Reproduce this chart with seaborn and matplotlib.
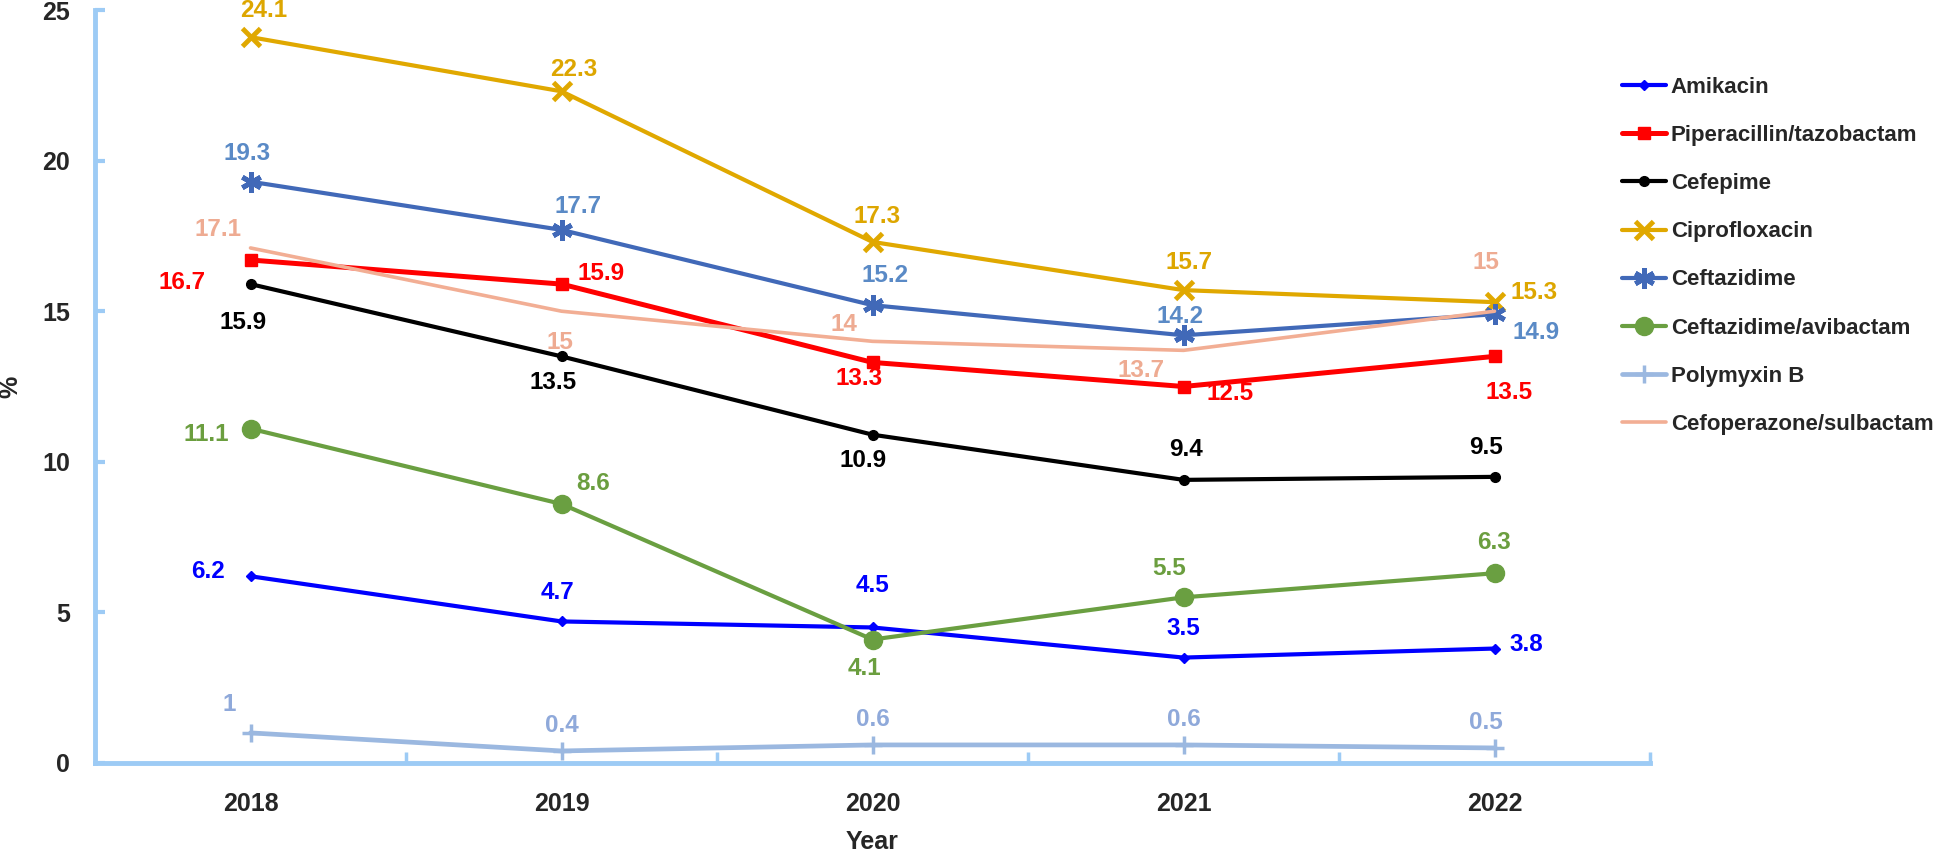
import pandas as pd
import matplotlib
matplotlib.use("Agg")
import matplotlib.pyplot as plt
import seaborn as sns

# ================== DATA ==================
YEARS = ["2018", "2019", "2020", "2021", "2022"]
DRUGS = ["Amikacin", "Piperacillin/tazobactam", "Cefepime", "Ciprofloxacin",
         "Ceftazidime", "Ceftazidime/avibactam", "Polymyxin B",
         "Cefoperazone/sulbactam"]
amikacin = [6.2, 4.7, 4.5, 3.5, 3.8]
piperacillin = [16.7, 15.9, 13.3, 12.5, 13.5]
cefepime = [15.9, 13.5, 10.9, 9.4, 9.5]
ciprofloxacin = [24.1, 22.3, 17.3, 15.7, 15.3]
ceftazidime = [19.3, 17.7, 15.2, 14.2, 14.9]
ceftazidime_avi = [11.1, 8.6, 4.1, 5.5, 6.3]
polymyxin = [1, 0.4, 0.6, 0.6, 0.5]
cefoperazone = [17.1, 15, 14, 13.7, 15]
VALUES = [amikacin, piperacillin, cefepime, ciprofloxacin, ceftazidime,
          ceftazidime_avi, polymyxin, cefoperazone]

# ================== STYLE ==================
AXIS_COLOR = "#9DCBF5"
FONT = ["Liberation Sans", "DejaVu Sans"]
STYLES = {
    "Amikacin": dict(color="#0000FF", marker="D", ms=5.5, lw=3.0, mew=1),
    "Piperacillin/tazobactam": dict(color="#FF0000", marker="s", ms=8, lw=3.6, mew=1),
    "Cefepime": dict(color="#000000", marker="o", ms=7, lw=3.0, mew=1),
    "Ciprofloxacin": dict(color="#E0A800", marker="x", ms=13, lw=3.0, mew=3.5),
    "Ceftazidime": dict(color="#4169B8", marker=(6, 2, 0), ms=15, lw=3.0, mew=3.5),
    "Ceftazidime/avibactam": dict(color="#6A9F41", marker="o", ms=13, lw=3.0, mew=1),
    "Polymyxin B": dict(color="#9BB8E0", marker="+", ms=13, lw=3.4, mew=2.5),
    "Cefoperazone/sulbactam": dict(color="#F2AE94", marker=None, ms=0, lw=2.6, mew=0),
}
LABEL_COLORS = {
    "Amikacin": "#0000FF", "Piperacillin/tazobactam": "#FF0000",
    "Cefepime": "#000000", "Ciprofloxacin": "#DDA600",
    "Ceftazidime": "#5A8AC6", "Ceftazidime/avibactam": "#6B9E3F",
    "Polymyxin B": "#8FA9DA", "Cefoperazone/sulbactam": "#EEAB92",
}
# label offsets in pixels (dx, dy), dy positive = down
OFFSETS = {
    "Amikacin": [(-43, -5), (-4, -29), (0, -42), (0, -29), (32, -4)],
    "Piperacillin/tazobactam": [(-68, 23), (40, -11), (-13, 16), (47, 7), (15, 36)],
    "Cefepime": [(-7, 38), (-8, 26), (-9, 26), (2, -30), (-8, -29)],
    "Ciprofloxacin": [(13, -27), (12, -22), (5, -25), (6, -28), (40, -10)],
    "Ceftazidime": [(-3, -28), (17, -23), (13, -30), (-3, -19), (42, 18)],
    "Ceftazidime/avibactam": [(-44, 6), (32, -20), (-8, 29), (-14, -29), (0, -31)],
    "Polymyxin B": [(-21, -28), (0, -25), (0, -25), (0, -25), (-9, -25)],
    "Cefoperazone/sulbactam": [(-32, -18), (-2, 31), (-29, -17), (-42, 20), (-9, -49)],
}

sns.set_theme(style="white")
plt.rcParams["font.family"] = FONT
plt.rcParams["font.weight"] = "bold"

fig = plt.figure(figsize=(19.45, 8.58), dpi=100)
ax = fig.add_axes([95 / 1945, 1 - 763 / 858, (1650 - 95) / 1945, (763 - 10) / 858])

for name, vals in zip(DRUGS, VALUES):
    st = STYLES[name]
    df = pd.DataFrame({"Year": YEARS, "pct": vals})
    sns.lineplot(data=df, x="Year", y="pct", ax=ax, color=st["color"],
                 linewidth=st["lw"], marker=st["marker"], markersize=st["ms"],
                 markeredgewidth=st["mew"], markeredgecolor=st["color"],
                 label=name, legend=False)
    for i, v in enumerate(vals):
        dx, dy = OFFSETS[name][i]
        ax.annotate(f"{v:g}", (i, v), xytext=(dx, -dy), textcoords="offset pixels",
                    ha="center", va="center", fontsize=17.5, fontweight="bold",
                    family=FONT, color=LABEL_COLORS[name])

ax.set_xlim(-0.5, 4.5)
ax.set_ylim(0, 25)
ax.set_yticks([0, 5, 10, 15, 20, 25])
ax.set_xticks(range(len(YEARS)))
ax.set_xticklabels(YEARS)
ax.set_xticks([0.5, 1.5, 2.5, 3.5, 4.5], minor=True)

for side in ["top", "right"]:
    ax.spines[side].set_visible(False)
for side in ["left", "bottom"]:
    ax.spines[side].set_color(AXIS_COLOR)
    ax.spines[side].set_linewidth(3.5)

ax.tick_params(axis="x", which="major", length=0, pad=21, labelsize=18)
ax.tick_params(axis="x", which="minor", direction="in", length=8, width=2.5,
               color=AXIS_COLOR, bottom=True)
ax.tick_params(axis="y", which="major", direction="in", length=7, width=3,
               color=AXIS_COLOR, left=True, pad=18, labelsize=18)
for lab in ax.get_xticklabels() + ax.get_yticklabels():
    lab.set_fontweight("bold")
    lab.set_family(FONT)

ax.set_xlabel("Year", fontsize=18, fontweight="bold", family=FONT, labelpad=10)
ax.set_ylabel("%", fontsize=18, fontweight="bold", family=FONT, labelpad=14)
ax.grid(False)

ax.legend(loc="upper left", bbox_to_anchor=(1622 / 1945, 1 - 77 / 858),
          bbox_transform=fig.transFigure, frameon=False, borderpad=0,
          borderaxespad=0, handlelength=2.0, handletextpad=0.2,
          labelspacing=1.22, prop={"family": FONT, "size": 16, "weight": "bold"})

fig.savefig("out.png", dpi=100)
